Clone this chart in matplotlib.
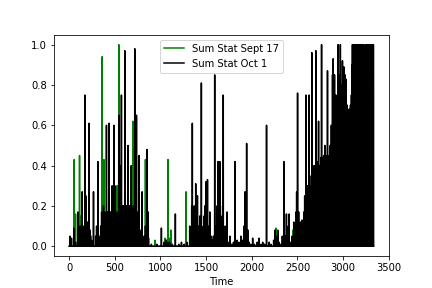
import matplotlib
matplotlib.use("Agg")
import matplotlib.pyplot as plt

END_TIME = 3335

# Sum Stat Sept 17 (green): spike times and heights
sept_t = [55, 69, 113, 125, 240, 361, 380, 395, 450, 500, 525, 543, 600, 650, 690, 697,
          750, 800, 835, 870, 940, 1050, 1065, 1083, 1100, 1115, 1280, 2265, 2450,
          2580, 2720, 3240, 3290, 3320]
sept_v = [0.43, 0.16, 0.45, 0.15, 0.05, 0.94, 0.43, 0.1, 0.1, 0.1, 0.3, 1.0, 0.1, 0.2, 0.4, 0.62,
          0.05, 0.05, 0.43, 0.04, 0.03, 0.04, 0.03, 0.43, 0.04, 0.08, 0.27, 0.09, 0.08,
          0.05, 0.06, 0.02, 0.02, 0.02]

# Sum Stat Oct 1 (black): spike times and heights
oct_t = [10, 25, 50, 70, 95, 120, 142, 148, 160, 171, 182, 190, 200, 215, 230, 245, 266, 290,
         300, 314, 335, 345, 355, 362, 368, 375, 381, 387, 393,
         400, 408, 415, 420, 427, 437, 443, 450, 457, 463, 470, 477, 482, 489, 495, 500,
         506, 512, 518, 524, 530, 536, 543, 549, 555, 560, 566, 572, 578, 584, 590, 596,
         603, 609, 615, 621, 627, 633, 640, 645, 650, 656, 662, 668, 674, 680, 686, 692,
         700, 706, 712, 718, 724, 730, 737, 743, 749, 755, 760, 766, 772, 778, 785, 792,
         799, 805,
         820, 835, 853, 866, 900, 960, 1010, 1040, 1060, 1080, 1100, 1130, 1163, 1200,
         1230, 1260, 1290, 1320, 1335, 1342, 1349, 1356, 1363, 1370, 1378, 1386, 1393,
         1399, 1405, 1412, 1420, 1430, 1438, 1448, 1455, 1462, 1470, 1478, 1485, 1492,
         1499, 1505, 1515, 1522, 1530, 1540, 1548, 1555, 1570, 1580, 1594, 1605, 1612,
         1620, 1630, 1636, 1643, 1650, 1656, 1662, 1668, 1675, 1688, 1695, 1703, 1710,
         1720, 1730, 1740, 1760, 1780, 1800, 1816, 1840, 1860, 1880, 1900, 1915, 1926,
         1935, 1944, 1950, 1960, 1970, 1990, 2010, 2030, 2060, 2080, 2100, 2120, 2140,
         2162, 2190, 2210, 2240, 2255, 2270, 2285, 2300, 2320, 2335, 2352, 2370, 2380,
         2390, 2400, 2410, 2420, 2440, 2460, 2470,
         2480, 2486, 2492, 2502, 2508, 2514, 2520, 2527, 2535, 2542, 2550, 2557, 2565,
         2572, 2580, 2586, 2593, 2599, 2605, 2611, 2617, 2623, 2629, 2635, 2641, 2647,
         2653, 2659, 2665, 2671, 2677, 2683, 2689, 2695, 2702, 2708, 2714, 2720, 2726,
         2732, 2738, 2744, 2750, 2757, 2765, 2771, 2777, 2783, 2789, 2795, 2801, 2807,
         2813, 2820, 2830, 2836, 2842, 2848, 2854, 2860, 2866, 2872, 2878, 2885,
         2892, 2897, 2902, 2907, 2912, 2917, 2922, 2927, 2932, 2937, 2946, 2951, 2956,
         2961, 2966, 2971, 2976, 2981, 2986, 2994, 2999, 3004, 3009, 3014, 3019, 3024,
         3030, 3035, 3040, 3046, 3051, 3056, 3062, 3067, 3072, 3077, 3082, 3087, 3092,
         3097,
         3103, 3108, 3113, 3118, 3123, 3128, 3133, 3138, 3143, 3148, 3153, 3158, 3163,
         3168, 3173, 3178, 3183, 3188, 3193, 3198, 3203, 3208, 3213, 3218, 3223, 3228,
         3233, 3238, 3243, 3248, 3253, 3258, 3263, 3268, 3273, 3278, 3283, 3288, 3293,
         3298, 3303, 3308, 3313, 3318, 3323, 3328, 3333]
oct_v = [0.05, 0.04, 0.09, 0.02, 0.17, 0.1, 0.27, 0.05, 0.1, 0.75, 0.25, 0.05, 0.12, 0.61, 0.08, 0.03, 0.27, 0.05,
         0.1, 0.42, 0.05, 0.1, 0.17, 0.1, 0.15, 0.2, 0.12, 0.17, 0.1,
         0.15, 0.6, 0.12, 0.17, 0.15, 0.61, 0.12, 0.17, 0.14, 0.17, 0.3, 0.12, 0.17, 0.6, 0.1, 0.3,
         0.12, 0.17, 0.14, 0.08, 0.17, 0.06, 0.65, 0.15, 0.17, 0.4, 0.15, 0.75, 0.17, 0.2, 0.2, 0.15,
         0.2, 0.97, 0.17, 0.2, 0.2, 0.12, 0.17, 0.5, 0.17, 0.2, 0.2, 0.12, 0.17, 0.4, 0.17, 0.12,
         0.2, 0.17, 0.15, 0.98, 0.17, 0.17, 0.65, 0.12, 0.1, 0.17, 0.08, 0.45, 0.06, 0.04, 0.08, 0.05,
         0.27, 0.03,
         0.05, 0.1, 0.48, 0.17, 0.01, 0.01, 0.09, 0.02, 0.03, 0.02, 0.02, 0.01, 0.16, 0.01,
         0.02, 0.01, 0.02, 0.1, 0.05, 0.2, 0.61, 0.1, 0.15, 0.2, 0.1, 0.31, 0.1,
         0.2, 0.25, 0.05, 0.1, 0.15, 0.1, 0.81, 0.05, 0.08, 0.1, 0.15, 0.2, 0.1,
         0.32, 0.1, 0.33, 0.1, 0.08, 0.17, 0.05, 0.05, 0.03, 0.05, 0.85, 0.03, 0.1,
         0.2, 0.42, 0.15, 0.1, 0.42, 0.2, 0.15, 0.1, 0.12, 0.75, 0.05, 0.08, 0.1,
         0.05, 0.17, 0.02, 0.05, 0.01, 0.02, 0.42, 0.03, 0.02, 0.05, 0.03, 0.1, 0.27,
         0.1, 0.51, 0.05, 0.08, 0.02, 0.01, 0.04, 0.01, 0.02, 0.04, 0.01, 0.02, 0.01,
         0.6, 0.02, 0.01, 0.03, 0.08, 0.05, 0.08, 0.02, 0.01, 0.05, 0.42, 0.05, 0.16,
         0.03, 0.1, 0.16, 0.02, 0.05, 0.12, 0.05,
         0.1, 0.17, 0.27, 0.76, 0.1, 0.17, 0.08, 0.05, 0.12, 0.06, 0.13, 0.05, 0.1,
         0.17, 0.25, 0.2, 0.75, 0.15, 0.25, 0.3, 0.15, 0.25, 0.75, 0.2, 0.3, 0.25,
         0.35, 0.96, 0.25, 0.3, 0.2, 0.4, 0.3, 0.35, 0.97, 0.3, 0.4, 0.3, 0.42,
         0.62, 0.25, 0.4, 0.35, 0.44, 1.0, 0.3, 0.44, 0.3, 0.45, 0.4, 0.5, 0.35,
         0.45, 0.4, 0.87, 0.35, 0.42, 0.45, 0.4, 0.5, 0.45, 0.6, 0.45, 0.85,
         0.93, 0.85, 0.6, 0.85, 0.7, 0.6, 0.75, 0.55, 0.65, 0.7, 1.0, 0.8, 0.7,
         0.75, 0.85, 1.0, 0.6, 0.7, 0.8, 0.92, 0.7, 0.75, 0.89, 0.8, 0.7, 0.85,
         0.83, 0.6, 0.65, 0.7, 0.55, 0.6, 0.65, 0.68, 0.6, 0.5, 0.7, 0.65, 0.75,
         0.9,
         1.0, 1.0, 1.0, 0.99, 1.0, 1.0, 0.98, 1.0, 1.0, 1.0, 0.99, 1.0, 0.98,
         1.0, 1.0, 1.0, 1.0, 0.97, 1.0, 1.0, 1.0, 1.0, 0.99, 1.0, 1.0, 1.0,
         0.55, 0.6, 0.55, 0.5, 1.0, 1.0, 1.0, 1.0, 0.99, 1.0, 1.0, 0.98, 1.0,
         1.0, 1.0, 1.0, 1.0, 1.0, 0.99, 1.0, 1.0]


def spike_line(times, heights):
    # each reading is a single-sample spike sitting on a zero baseline
    xs, ys = [0], [0]
    for t, h in zip(times, heights):
        xs += [t - 1, t, t + 1]
        ys += [0, h, 0]
    xs.append(END_TIME)
    ys.append(0)
    return xs, ys


fig = plt.figure(figsize=(6, 4), dpi=72)

x, y = spike_line(sept_t, sept_v)
plt.plot(x, y, color="green", label="Sum Stat Sept 17")
x, y = spike_line(oct_t, oct_v)
plt.plot(x, y, color="black", label="Sum Stat Oct 1")

plt.xlabel("Time")
plt.legend(loc="upper center")

plt.savefig("out.png", dpi=72)
plt.close()
